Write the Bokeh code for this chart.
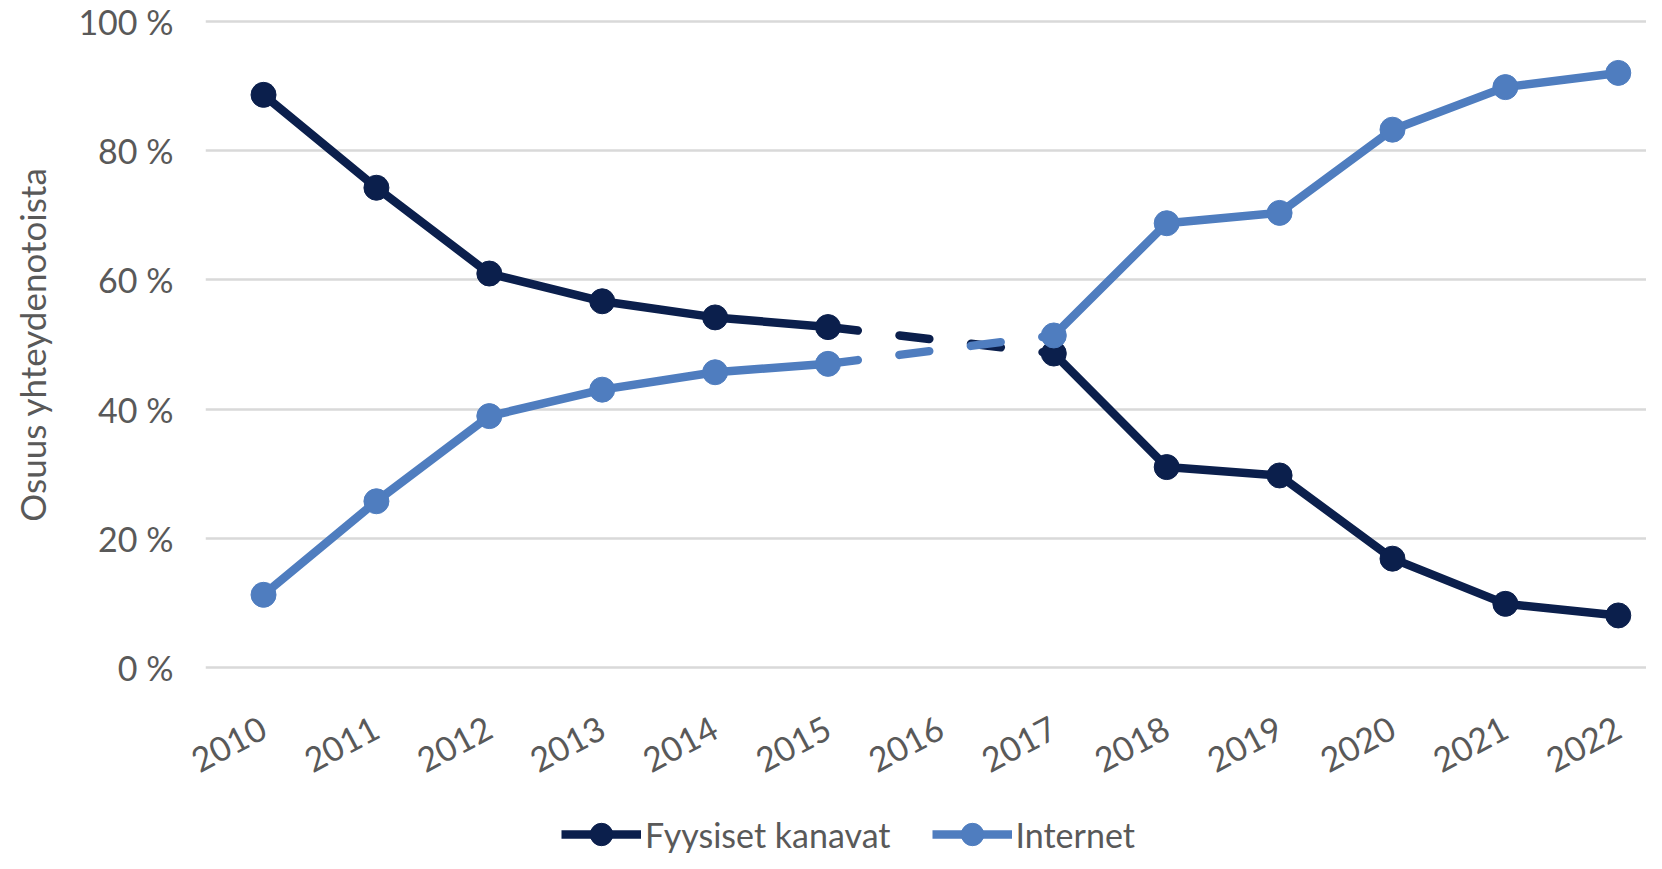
import math
from bokeh.plotting import figure
from bokeh.layouts import column
from bokeh.models import Range1d, FixedTicker, Legend, LegendItem, ColumnDataSource
from bokeh.embed import file_html
from bokeh.resources import INLINE

# ---- data ----
years = [2010, 2011, 2012, 2013, 2014, 2015, 2016, 2017, 2018, 2019, 2020, 2021, 2022]
fyysiset = [88.7, 74.3, 61.0, 56.7, 54.2, 52.7, None, 48.6, 31.0, 29.7, 16.8, 9.8, 8.0]
internet = [11.2, 25.7, 38.9, 43.0, 45.7, 47.0, None, 51.4, 68.8, 70.4, 83.3, 89.9, 92.1]
series_names = ["Fyysiset kanavat", "Internet"]
y_ticks = [0, 20, 40, 60, 80, 100]
y_tick_labels = ["0 %", "20 %", "40 %", "60 %", "80 %", "100 %"]
x_tick_labels = [str(y) for y in years]
y_axis_title = "Osuus yhteydenotoista"

DARK = "#0b1f4c"
BLUE = "#4f7dbf"
GRAY = "#595959"
FONT = "Lato"
LW = 8.5
MS = 25

p = figure(frame_width=1441, frame_height=658, output_backend="svg", toolbar_location=None,
           x_range=Range1d(2009.486, 2022.25), y_range=Range1d(-1, 101),
           min_border_left=205, min_border_right=0, min_border_top=15,
           min_border_bottom=120)
p.outline_line_color = None
p.background_fill_color = "white"
p.border_fill_color = "white"

# axes
p.xaxis.ticker = FixedTicker(ticks=years)
p.xaxis.major_label_overrides = {y: l for y, l in zip(years, x_tick_labels)}
p.xaxis.major_label_orientation = math.radians(28)
p.yaxis.ticker = FixedTicker(ticks=y_ticks)
p.yaxis.major_label_overrides = {t: l for t, l in zip(y_ticks, y_tick_labels)}
for ax in (p.xaxis[0], p.yaxis[0]):
    ax.axis_line_color = None
    ax.major_tick_line_color = None
    ax.minor_tick_line_color = None
    ax.major_tick_out = 0
    ax.major_tick_in = 0
    ax.major_label_text_font = FONT
    ax.major_label_text_font_size = "34px"
    ax.major_label_text_color = GRAY
p.yaxis.major_label_standoff = 32
p.xaxis.major_label_standoff = 52
p.yaxis.axis_label = y_axis_title
p.yaxis.axis_label_text_font = FONT
p.yaxis.axis_label_text_font_size = "35px"
p.yaxis.axis_label_text_font_style = "normal"
p.yaxis.axis_label_text_color = GRAY
p.yaxis.axis_label_standoff = 22

p.xgrid.grid_line_color = None
p.ygrid.grid_line_color = "#d9d9d9"
p.ygrid.grid_line_width = 2.5


def gap_segments(xs, ys):
    segs_x, segs_y = [], []
    for i in range(1, len(ys) - 1):
        if ys[i] is None and ys[i - 1] is not None and ys[i + 1] is not None:
            segs_x.append([xs[i - 1], xs[i + 1]])
            segs_y.append([ys[i - 1], ys[i + 1]])
    return segs_x, segs_y


sources = []
for name, vals, col in zip(series_names, [fyysiset, internet], [DARK, BLUE]):
    yv = [float("nan") if v is None else v for v in vals]
    src = ColumnDataSource(dict(x=years, y=yv))
    sources.append(src)
    gx, gy = gap_segments(years, vals)
    p.multi_line(gx, gy, line_color=col, line_width=LW, line_dash="30 42",
                 line_cap="round")
    p.line("x", "y", source=src, line_color=col, line_width=LW, line_join="round")
    p.scatter("x", "y", source=src, size=MS, fill_color=col, line_color=col)

# ---- legend strip (separate figure below the chart; its ranges keep the
# series themselves out of view so only the legend shows) ----
p2 = figure(width=1646, height=60, output_backend="svg", toolbar_location=None,
            x_range=Range1d(0, 1), y_range=Range1d(0, 1),
            min_border_left=0, min_border_right=0, min_border_top=0, min_border_bottom=0)
p2.outline_line_color = None
p2.axis.visible = False
p2.grid.grid_line_color = None
items = []
for name, src, col in zip(series_names, sources, [DARK, BLUE]):
    l2 = p2.line("x", "y", source=src, line_color=col, line_width=LW)
    m2 = p2.scatter("x", "y", source=src, size=MS, fill_color=col, line_color=col)
    items.append(LegendItem(label=name, renderers=[l2, m2]))

legend = Legend(items=items, orientation="horizontal", location=(356, -9),
                label_text_font=FONT, label_text_font_size="34px",
                label_text_color=GRAY, glyph_width=80, glyph_height=56,
                label_standoff=4, spacing=41, border_line_color=None,
                background_fill_alpha=0, padding=0, margin=0)
p2.add_layout(legend, "center")

layout = column(p, p2, spacing=0)
open("out.html", "w").write(file_html(layout, INLINE))
